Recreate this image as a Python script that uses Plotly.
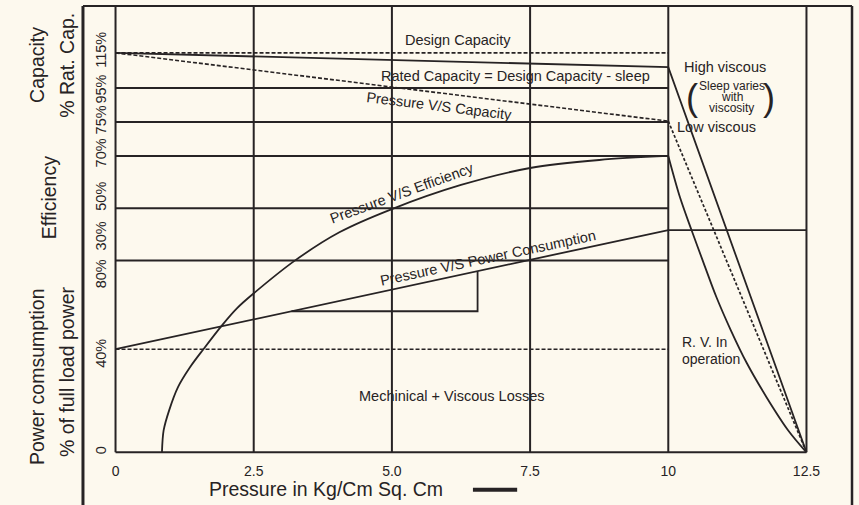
import numpy as np
import plotly.graph_objects as go

INK = "#272324"
BG = "#fdf9ee"
FONT = "Liberation Sans, Arial, Helvetica, sans-serif"

# ---------------- data (chart height units: 0 = base line, 100 = top frame) ----------------
pressure_ticks = [0, 2.5, 5.0, 7.5, 10, 12.5]
pressure_tick_text = ["0", "2.5", "5.0", "7.5", "10", "12.5"]

y_tick_pos = [89.7, 80.9, 74.0, 66.6, 56.9, 48.0, 39.5, 21.7, 0]
y_tick_text = ["115%", "95%", "75%", "70%", "50%", "30%", "80%", "40%", "0"]

grid_levels = [81.6, 74.0, 66.4, 54.7, 43.0]
grid_left_x = [0, 10]
base_x = [0, 12.5]
top_level = 100

# capacity
cap_x = [0, 10]
design_cap = [89.5, 89.5]
rated_cap_x = [0, 10, 12.5]
rated_cap = [89.5, 86.3, 0]
press_cap = [89.5, 74.2]
low_visc_x = [10, 12.5]
low_visc = [74.2, 0]

# efficiency
eff_x = [0.84, 0.87, 0.97, 1.13, 1.35, 1.59, 1.93, 2.2, 2.48, 3.25, 4.05, 5.0, 6.25, 7.5, 8.75, 10.0]
eff_y = [0, 4.9, 9.4, 14.6, 19.1, 23.1, 28.5, 32.3, 35.4, 43.0, 49.3, 54.5, 59.9, 63.7, 65.5, 66.4]
eff_drop_x = [10.0, 10.21, 10.42, 10.64, 10.87, 11.13, 11.42, 11.78, 12.17, 12.5]
eff_drop_y = [66.4, 57.2, 49.8, 42.4, 34.8, 27.4, 20.0, 12.3, 4.9, 0]

# power consumption
power_x = [0, 10, 12.5]
power_y = [23.1, 49.8, 49.8]
losses_x = [0, 10]
losses_level = [23.1, 23.1]
slope_end_x = 6.55
slope_base = 31.6

fig = go.Figure()


def line(x, y, width=2.0, dash="solid", shape="linear"):
    fig.add_trace(go.Scatter(
        x=x, y=y, mode="lines",
        line=dict(color=INK, width=width, dash=dash, shape=shape, smoothing=0.9),
        hoverinfo="skip", showlegend=False))


# grid: verticals
vx, vy = [], []
for p in pressure_ticks:
    vx += [p, p, None]
    vy += [0, top_level, None]
line(vx, vy, width=2.0)

# grid: horizontals
hx, hy = [], []
for g in grid_levels:
    hx += grid_left_x + [None]
    hy += [g, g, None]
hx += base_x + [None]
hy += [0, 0, None]
line(hx, hy, width=2.0)

# capacity
line(cap_x, design_cap, width=1.6, dash="4px,2px")
line(rated_cap_x, rated_cap, width=1.8)
line(cap_x, press_cap, width=1.6, dash="4px,2px")
line(low_visc_x, low_visc, width=1.7, dash="3px,2px")

# efficiency
line(eff_x, eff_y, width=1.8, shape="spline")
line(eff_drop_x, eff_drop_y, width=1.8, shape="spline")

# power consumption
line(power_x, power_y, width=1.8)
line(losses_x, losses_level, width=1.6, dash="4px,2px")
slope_start_x = float(np.interp(slope_base, power_y[:2], power_x[:2]))
slope_tip = float(np.interp(slope_end_x, power_x, power_y))
line([slope_start_x, slope_end_x, slope_end_x], [slope_base, slope_base, slope_tip], width=1.8)

# ---------------- annotations ----------------
ann = []


def txt(x, y, s, size=14.5, angle=0, xanchor="center", xref="x", yref="y"):
    ann.append(dict(x=x, y=y, xref=xref, yref=yref, text=s, showarrow=False,
                    textangle=angle, xanchor=xanchor, yanchor="middle",
                    font=dict(family=FONT, size=size, color=INK)))


txt(6.2, 92.4, "Design Capacity")
txt(7.23, 84.3, "Rated Capacity = Design Capacity - sleep")
txt(5.86, 77.7, "Pressure V/S Capacity", angle=7)
txt(5.18, 58.1, "Pressure V/S Efficiency", angle=-20)
txt(6.73, 43.5, "Pressure V/S Power Consumption", angle=-12)
txt(6.09, 12.6, "Mechinical + Viscous Losses")
txt(11.02, 86.3, "High viscous")
txt(11.15, 82.1, "Sleep varies", size=12)
txt(11.15, 79.6, "with", size=12)
txt(11.15, 77.1, "viscosity", size=12)
txt(10.43, 79.4, "(", size=36)
txt(11.83, 79.4, ")", size=36)
txt(10.87, 72.9, "Low viscous")
txt(10.22, 24.7, "R. V. In", size=14, xanchor="left")
txt(10.22, 20.9, "operation", size=14, xanchor="left")

# axis titles
txt(3.81, -0.066, "Pressure in Kg/Cm Sq. Cm", size=19.5, yref="paper")
txt(-0.104, 0.870, "Capacity", size=19.5, angle=-90, xref="paper", yref="paper")
txt(-0.0613, 0.870, "% Rat. Cap.", size=19.5, angle=-90, xref="paper", yref="paper")
txt(-0.0869, 0.578, "Efficiency", size=19.5, angle=-90, xref="paper", yref="paper")
txt(-0.104, 0.183, "Power comsumption", size=19.5, angle=-90, xref="paper", yref="paper")
txt(-0.0613, 0.194, "% of full load power", size=19.5, angle=-90, xref="paper", yref="paper")

shapes = [
    dict(type="line", xref="paper", yref="paper", x0=-0.0385, x1=-0.0385, y0=1.0, y1=-0.3,
         line=dict(color=INK, width=3)),
    dict(type="line", xref="paper", yref="paper", x0=-0.0385, x1=1.057, y0=1.0, y1=1.0,
         line=dict(color=INK, width=2.2)),
    dict(type="line", xref="paper", yref="paper", x0=1.057, x1=1.057, y0=1.0, y1=-0.3,
         line=dict(color=INK, width=2.5)),
    dict(type="line", xref="paper", yref="paper", x0=0.517, x1=0.580, y0=-0.068, y1=-0.068,
         line=dict(color=INK, width=4)),
]

fig.update_layout(
    width=859, height=505,
    margin=dict(l=110, r=47, t=6, b=46),
    paper_bgcolor=BG, plot_bgcolor=BG,
    font=dict(family=FONT, color=INK),
    annotations=ann, shapes=shapes,
    xaxis=dict(range=[-0.1, 12.6], tickvals=pressure_ticks, ticktext=pressure_tick_text,
               showgrid=False, zeroline=False, showline=False, ticks="",
               tickfont=dict(size=14, color=INK), ticklabelstandoff=2, fixedrange=True),
    yaxis=dict(range=[-1.5, 100], tickvals=y_tick_pos, ticktext=y_tick_text,
               tickangle=-90, showgrid=False, zeroline=False, showline=False, ticks="",
               tickfont=dict(size=14.5, color=INK), ticklabelstandoff=0, fixedrange=True),
)

fig.write_html(
    "out.html",
    config={"displayModeBar": False, "staticPlot": True},
    post_script="document.body.style.margin='0px';document.body.style.background='%s';" % BG,
)
